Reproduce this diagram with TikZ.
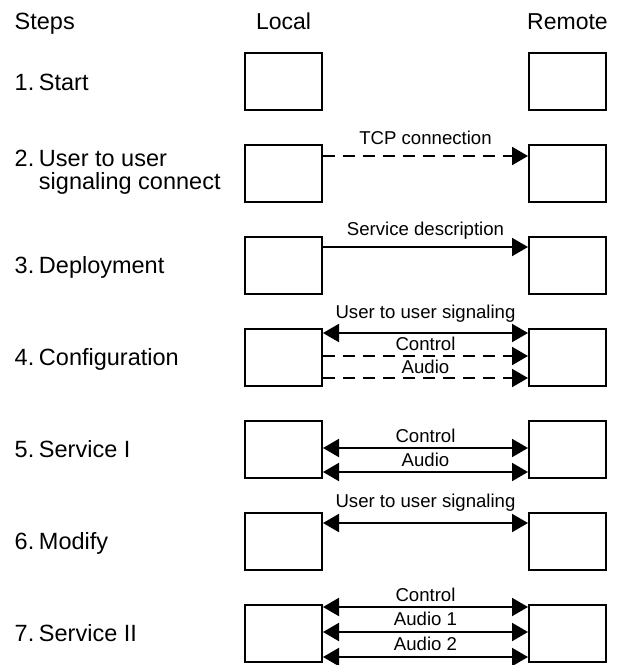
\documentclass[tikz,border=0pt]{standalone}
\usepackage{fontspec}
\setmainfont{Liberation Sans}
\usetikzlibrary{arrows.meta}
% step number followed by a narrow gap
\newcommand{\stepno}[1]{#1\hspace{4.7pt}}
\begin{document}
\begin{tikzpicture}[x=1pt,y=-1pt,
  box/.style={draw,line width=2pt,minimum width=77pt,minimum height=57pt,inner sep=0pt},
  head/.style={font=\fontsize{23}{23}\selectfont,anchor=base,inner sep=0pt},
  steplabel/.style={font=\fontsize{23.5}{22.5}\selectfont,anchor=base west,align=left,inner sep=0pt},
  lbl/.style={font=\fontsize{18.6}{20}\selectfont,inner sep=0pt,anchor=base},
  conn/.style={line width=2pt},
  uni/.style={conn,-{Triangle[length=16pt,width=18pt]}},
  bi/.style={conn,{Triangle[length=16pt,width=18pt]}-{Triangle[length=16pt,width=18pt]}},
  dashline/.style={dash pattern=on 12pt off 8pt}]
\useasboundingbox (0,0) rectangle (622,665);

% column headings
\node[steplabel] (hs) at (14.5,29) {Steps};
\node[head] (hl) at (283.5,29) {Local};
\node[head] (hr) at (567.5,29) {Remote};

% step names
\node[steplabel] (s1) at (14.5,90) {\stepno{1.}Start};
\node[steplabel] (s2) at (14.5,166) {\begin{tabular}[t]{@{}l@{\hspace{4.7pt}}l@{}}2.&User to user\\&signaling connect\end{tabular}};
\node[steplabel] (s3) at (14.5,273.5) {\stepno{3.}Deployment};
\node[steplabel] (s4) at (14.5,365.5) {\stepno{4.}Configuration};
\node[steplabel] (s5) at (14.5,457.5) {\stepno{5.}Service I};
\node[steplabel] (s6) at (14.5,549.5) {\stepno{6.}Modify};
\node[steplabel] (s7) at (14.5,641.5) {\stepno{7.}Service II};

% local and remote boxes
\foreach \i/\y in {1/81.5,2/173.5,3/265.5,4/357.5,5/449.5,6/541.5,7/633.5}{
  \node[box] (L\i) at (283.5,\y) {};
  \node[box] (R\i) at (567.5,\y) {};
}

% 2. user to user signaling connect
\draw[uni,dashline] ([yshift=-12pt]L2.north east) -- node[lbl,yshift=12pt] {TCP connection} ([yshift=-12pt]R2.north west);

% 3. deployment
\draw[uni] ([yshift=-11pt]L3.north east) -- node[lbl,yshift=12pt] {Service description} ([yshift=-11pt]R3.north west);

% 4. configuration
\draw[bi] ([yshift=-5pt]L4.north east) -- node[lbl,yshift=15pt] {User to user signaling} ([yshift=-5pt]R4.north west);
\draw[uni,dashline] ([yshift=-28pt]L4.north east) -- node[lbl,yshift=5.5pt] {Control} ([yshift=-28pt]R4.north west);
\draw[uni,dashline] ([yshift=-50pt]L4.north east) -- node[lbl,yshift=4.5pt] {Audio} ([yshift=-50pt]R4.north west);

% 5. service I
\draw[bi] ([yshift=-28pt]L5.north east) -- node[lbl,yshift=6pt] {Control} ([yshift=-28pt]R5.north west);
\draw[bi] ([yshift=-52pt]L5.north east) -- node[lbl,yshift=6pt] {Audio} ([yshift=-52pt]R5.north west);

% 6. modify
\draw[bi] ([yshift=-11pt]L6.north east) -- node[lbl,yshift=16pt] {User to user signaling} ([yshift=-11pt]R6.north west);

% 7. service II
\draw[bi] ([yshift=-3pt]L7.north east) -- node[lbl,yshift=6pt] {Control} ([yshift=-3pt]R7.north west);
\draw[bi] ([yshift=-28pt]L7.north east) -- node[lbl,yshift=6.5pt] {Audio 1} ([yshift=-28pt]R7.north west);
\draw[bi] ([yshift=-53pt]L7.north east) -- node[lbl,yshift=6.5pt] {Audio 2} ([yshift=-53pt]R7.north west);
\end{tikzpicture}
\end{document}
